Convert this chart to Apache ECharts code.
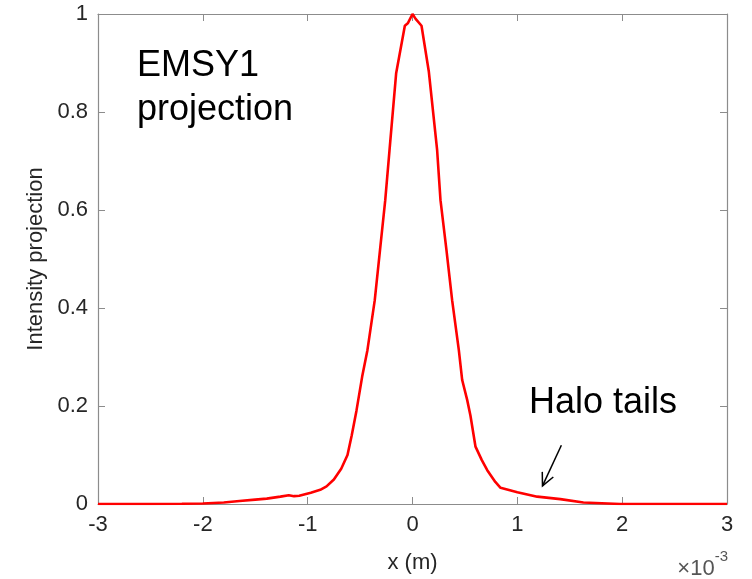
<!DOCTYPE html>
<html>
<head>
<meta charset="utf-8">
<script src="https://cdn.jsdelivr.net/npm/echarts@6/dist/echarts.min.js"></script>
<style>html,body{margin:0;padding:0;background:#fff}#c{width:752px;height:579px}</style>
</head>
<body>
<div id="c"></div>
<script>
// x in units of 1e-3 m
const xValues = [-3.0,-2.5,-2.2,-2.0,-1.8,-1.65,-1.5,-1.39,-1.26,-1.18,-1.13,-1.08,-0.97,-0.88,-0.82,-0.75,-0.68,-0.62,-0.58,-0.535,-0.48,-0.43,-0.36,-0.31,-0.26,-0.22,-0.156,-0.073,-0.045,0.0,0.03,0.086,0.156,0.235,0.267,0.324,0.378,0.442,0.474,0.522,0.553,0.601,0.66,0.713,0.79,0.84,1.0,1.19,1.41,1.63,1.98,2.5,3.0];
const yValues = [0,0,0.0005,0.001,0.003,0.006,0.009,0.011,0.015,0.018,0.016,0.017,0.023,0.029,0.036,0.050,0.072,0.100,0.14,0.19,0.26,0.314,0.416,0.518,0.620,0.72,0.879,0.976,0.981,1.0,0.99,0.976,0.882,0.722,0.620,0.518,0.416,0.314,0.253,0.212,0.180,0.117,0.090,0.069,0.045,0.033,0.024,0.015,0.010,0.003,0,0,0];
const xTicks = [-3,-2,-1,0,1,2,3];
const yTicks = [0,0.2,0.4,0.6,0.8,1];
const arrowFrom = [1.42, 0.12];
const arrowTo = [1.24, 0.037];

const chart = echarts.init(document.getElementById('c'), null, {renderer:'canvas'});
const axisCol = '#8c8c8c';
const labCol = '#262626';
const font = 'Liberation Sans, Arial, sans-serif';
const data = xValues.map((x,i)=>[x,yValues[i]]);
const common = {
  axisLine:{show:true,onZero:false,lineStyle:{color:axisCol,width:1.2}},
  axisTick:{show:true,inside:true,length:7,lineStyle:{color:axisCol}},
  splitLine:{show:false}
};
chart.setOption({
  animation:false,
  backgroundColor:'#fff',
  grid:{left:98,right:25,top:14,bottom:75,containLabel:false},
  xAxis:[Object.assign({
    type:'value',min:xTicks[0],max:xTicks[xTicks.length-1],interval:1,
    axisLabel:{color:labCol,fontSize:22,fontFamily:font,margin:10},
    name:'x (m)',nameLocation:'middle',nameGap:48,
    nameTextStyle:{color:labCol,fontSize:22,fontFamily:font}
  },common),Object.assign({
    type:'value',position:'top',min:xTicks[0],max:xTicks[xTicks.length-1],interval:1,
    axisLabel:{show:false}
  },common)],
  yAxis:[Object.assign({
    type:'value',min:yTicks[0],max:yTicks[yTicks.length-1],interval:0.2,
    axisLabel:{color:labCol,fontSize:22,fontFamily:font,margin:10},
    name:'Intensity projection',nameLocation:'middle',nameGap:51,
    nameTextStyle:{color:labCol,fontSize:22,fontFamily:font}
  },common),Object.assign({
    type:'value',position:'right',min:yTicks[0],max:yTicks[yTicks.length-1],interval:0.2,
    axisLabel:{show:false}
  },common)],
  series:[{
    type:'line',data:data,showSymbol:false,symbol:'none',
    lineStyle:{color:'#ff0000',width:2.6},
    xAxisIndex:0,yAxisIndex:0,z:5
  }]
});

const p0 = chart.convertToPixel({xAxisIndex:0,yAxisIndex:0}, arrowFrom);
const p1 = chart.convertToPixel({xAxisIndex:0,yAxisIndex:0}, arrowTo);
const ang = Math.atan2(p1[1]-p0[1], p1[0]-p0[0]);
const hl = 14, ha = 0.45;
const w1 = [p1[0]-hl*Math.cos(ang-ha), p1[1]-hl*Math.sin(ang-ha)];
const w2 = [p1[0]-hl*Math.cos(ang+ha), p1[1]-hl*Math.sin(ang+ha)];

chart.setOption({
  graphic:[
    {type:'text',left:137,top:48,style:{text:'EMSY1',fontSize:36,fontFamily:font,fill:'#000'}},
    {type:'text',left:137,top:92,style:{text:'projection',fontSize:36,fontFamily:font,fill:'#000'}},
    {type:'text',left:529,top:385,style:{text:'Halo tails',fontSize:36,fontFamily:font,fill:'#000'}},
    {type:'text',right:24,top:549,style:{
      text:'{a|×10}{b|-3}',
      rich:{a:{fontSize:22,fontFamily:font,fill:'#555',padding:[9,0,0,0]},b:{fontSize:15,fontFamily:font,fill:'#555',verticalAlign:'top',padding:[0,0,12,0]}}
    }},
    {type:'line',shape:{x1:p0[0],y1:p0[1],x2:p1[0],y2:p1[1]},style:{stroke:'#000',lineWidth:1.5}},
    {type:'polyline',shape:{points:[w1,p1,w2]},style:{stroke:'#000',lineWidth:1.5,fill:null}}
  ]
});
</script>
</body>
</html>
